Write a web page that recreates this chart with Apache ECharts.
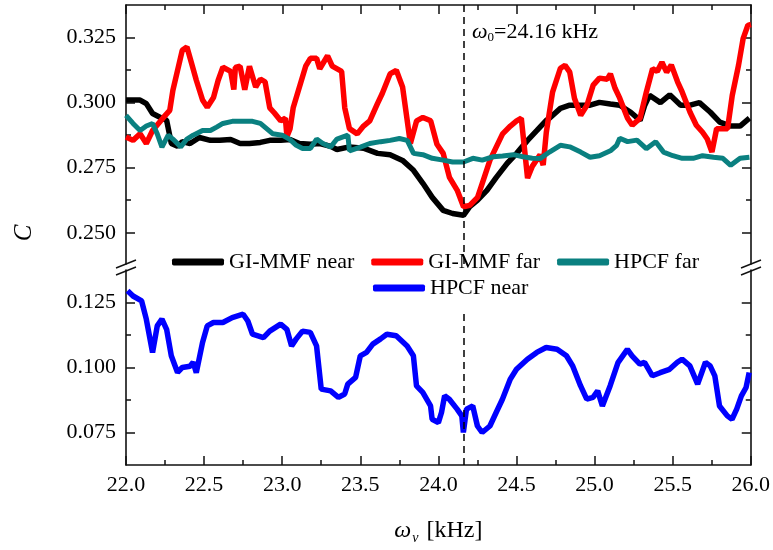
<!DOCTYPE html>
<html>
<head>
<meta charset="utf-8">
<title>C vs omega</title>
<script src="https://cdn.jsdelivr.net/npm/echarts@6/dist/echarts.min.js"></script>
<style>
html, body { margin: 0; padding: 0; background: #fff; }
#main { width: 773px; height: 550px; }
</style>
</head>
<body>
<div id="main"></div>
<script>
// GI-MMF near (black)
var mmfNearFreq = [22.00, 22.045, 22.09, 22.13, 22.17, 22.22, 22.26, 22.29, 22.33, 22.36, 22.41, 22.47, 22.54, 22.60, 22.67, 22.73, 22.79, 22.86, 22.92, 22.99, 23.05, 23.11, 23.18, 23.24, 23.31, 23.35, 23.43, 23.52, 23.61, 23.69, 23.77, 23.84, 23.90, 23.96, 24.03, 24.09, 24.16, 24.20, 24.25, 24.31, 24.37, 24.44, 24.50, 24.57, 24.63, 24.69, 24.71, 24.78, 24.84, 24.91, 24.97, 25.03, 25.10, 25.16, 25.23, 25.29, 25.32, 25.35, 25.42, 25.48, 25.55, 25.61, 25.67, 25.74, 25.80, 25.87, 25.93, 25.99];
var mmfNearC = [0.301, 0.301, 0.301, 0.2996, 0.2958, 0.2943, 0.2932, 0.2843, 0.2832, 0.285, 0.2843, 0.2866, 0.2855, 0.2855, 0.2858, 0.2843, 0.2843, 0.2847, 0.2855, 0.2855, 0.2858, 0.2843, 0.284, 0.2843, 0.2832, 0.282, 0.283, 0.2825, 0.2805, 0.280, 0.2778, 0.274, 0.269, 0.2636, 0.2586, 0.2574, 0.2567, 0.260, 0.2625, 0.2663, 0.2713, 0.2767, 0.2805, 0.2855, 0.2893, 0.2932, 0.294, 0.2978, 0.299, 0.299, 0.299, 0.3001, 0.2995, 0.299, 0.2963, 0.2932, 0.299, 0.3028, 0.300, 0.303, 0.299, 0.299, 0.300, 0.2963, 0.2925, 0.291, 0.291, 0.294];

// GI-MMF far (red)
var mmfFarFreq = [22.00, 22.045, 22.09, 22.13, 22.17, 22.24, 22.28, 22.30, 22.33, 22.36, 22.39, 22.42, 22.45, 22.49, 22.52, 22.56, 22.59, 22.62, 22.67, 22.69, 22.70, 22.73, 22.76, 22.79, 22.83, 22.86, 22.89, 22.92, 22.95, 22.99, 23.02, 23.03, 23.05, 23.07, 23.11, 23.15, 23.18, 23.22, 23.24, 23.29, 23.32, 23.38, 23.40, 23.43, 23.48, 23.52, 23.56, 23.61, 23.64, 23.69, 23.73, 23.77, 23.82, 23.86, 23.90, 23.95, 23.99, 24.03, 24.07, 24.12, 24.16, 24.20, 24.25, 24.28, 24.33, 24.37, 24.41, 24.46, 24.50, 24.53, 24.57, 24.60, 24.65, 24.67, 24.69, 24.73, 24.78, 24.81, 24.84, 24.87, 24.91, 24.95, 24.99, 25.03, 25.08, 25.10, 25.13, 25.16, 25.21, 25.24, 25.29, 25.33, 25.37, 25.40, 25.43, 25.46, 25.49, 25.53, 25.56, 25.61, 25.65, 25.69, 25.72, 25.75, 25.78, 25.82, 25.85, 25.88, 25.92, 25.95, 25.98, 26.00];
var mmfFarC = [0.2868, 0.2855, 0.288, 0.2843, 0.2893, 0.2943, 0.297, 0.3047, 0.3124, 0.3201, 0.3214, 0.315, 0.3086, 0.301, 0.2982, 0.302, 0.3086, 0.3136, 0.312, 0.305, 0.3135, 0.314, 0.305, 0.314, 0.306, 0.309, 0.308, 0.298, 0.296, 0.293, 0.294, 0.287, 0.290, 0.298, 0.306, 0.314, 0.317, 0.317, 0.313, 0.318, 0.314, 0.312, 0.298, 0.290, 0.288, 0.291, 0.293, 0.2997, 0.3035, 0.311, 0.3124, 0.306, 0.2843, 0.293, 0.2943, 0.293, 0.284, 0.2805, 0.2713, 0.2663, 0.260, 0.2605, 0.2636, 0.269, 0.278, 0.283, 0.288, 0.291, 0.293, 0.294, 0.271, 0.2755, 0.280, 0.276, 0.2886, 0.304, 0.3132, 0.3143, 0.3117, 0.3017, 0.2951, 0.299, 0.3067, 0.3094, 0.309, 0.311, 0.3055, 0.3017, 0.294, 0.2913, 0.294, 0.304, 0.313, 0.312, 0.3155, 0.3117, 0.3145, 0.308, 0.304, 0.2963, 0.2913, 0.2886, 0.286, 0.281, 0.290, 0.290, 0.290, 0.3028, 0.3143, 0.3247, 0.3297, 0.330];

// HPCF far (teal)
var hpcfFarFreq = [22.00, 22.045, 22.09, 22.13, 22.17, 22.20, 22.23, 22.27, 22.30, 22.35, 22.39, 22.43, 22.49, 22.54, 22.58, 22.62, 22.68, 22.75, 22.81, 22.86, 22.90, 22.94, 23.00, 23.05, 23.09, 23.13, 23.18, 23.22, 23.26, 23.31, 23.35, 23.42, 23.43, 23.50, 23.56, 23.63, 23.69, 23.75, 23.80, 23.84, 23.90, 23.96, 24.03, 24.09, 24.16, 24.22, 24.28, 24.35, 24.41, 24.48, 24.54, 24.60, 24.65, 24.71, 24.78, 24.84, 24.91, 24.97, 25.03, 25.10, 25.14, 25.16, 25.21, 25.27, 25.33, 25.39, 25.44, 25.50, 25.56, 25.63, 25.69, 25.76, 25.82, 25.87, 25.93, 25.99];
var hpcfFarC = [0.2951, 0.292, 0.2893, 0.291, 0.292, 0.288, 0.2829, 0.2875, 0.286, 0.283, 0.286, 0.2875, 0.2893, 0.2893, 0.2906, 0.292, 0.2928, 0.2928, 0.2928, 0.292, 0.290, 0.288, 0.2875, 0.2858, 0.2836, 0.2824, 0.2824, 0.286, 0.2843, 0.283, 0.286, 0.2875, 0.2815, 0.2829, 0.2843, 0.285, 0.2855, 0.2862, 0.2855, 0.2805, 0.280, 0.2786, 0.2779, 0.2772, 0.2772, 0.2786, 0.2779, 0.2792, 0.2795, 0.280, 0.2792, 0.2786, 0.2785, 0.281, 0.2836, 0.283, 0.281, 0.279, 0.2796, 0.2815, 0.2836, 0.2863, 0.285, 0.2856, 0.2823, 0.285, 0.281, 0.2796, 0.2786, 0.2786, 0.2796, 0.279, 0.2786, 0.2759, 0.2786, 0.279];

// HPCF near (blue)
var hpcfNearFreq = [22.01, 22.045, 22.10, 22.13, 22.17, 22.20, 22.23, 22.26, 22.29, 22.33, 22.36, 22.41, 22.43, 22.45, 22.49, 22.52, 22.56, 22.62, 22.68, 22.75, 22.78, 22.81, 22.88, 22.92, 22.99, 23.03, 23.06, 23.09, 23.13, 23.18, 23.22, 23.25, 23.31, 23.36, 23.40, 23.42, 23.47, 23.50, 23.54, 23.58, 23.63, 23.67, 23.73, 23.80, 23.84, 23.86, 23.90, 23.95, 23.96, 24.00, 24.02, 24.04, 24.07, 24.12, 24.15, 24.16, 24.18, 24.22, 24.25, 24.28, 24.33, 24.37, 24.41, 24.46, 24.50, 24.57, 24.63, 24.69, 24.76, 24.82, 24.86, 24.91, 24.95, 24.99, 25.02, 25.05, 25.10, 25.15, 25.21, 25.24, 25.29, 25.32, 25.37, 25.42, 25.48, 25.53, 25.56, 25.61, 25.66, 25.71, 25.74, 25.77, 25.80, 25.85, 25.88, 25.91, 25.94, 25.97, 25.99];
var hpcfNearC = [0.1295, 0.1275, 0.1256, 0.1186, 0.1058, 0.116, 0.1186, 0.1147, 0.1045, 0.0981, 0.100, 0.1005, 0.102, 0.098, 0.1096, 0.116, 0.1173, 0.1173, 0.1192, 0.1205, 0.1179, 0.1128, 0.1115, 0.114, 0.1167, 0.1147, 0.1083, 0.111, 0.114, 0.1135, 0.1083, 0.0917, 0.091, 0.0885, 0.0898, 0.0936, 0.0962, 0.1045, 0.1058, 0.109, 0.111, 0.1128, 0.1122, 0.1083, 0.1045, 0.0929, 0.0904, 0.0852, 0.0801, 0.0788, 0.0827, 0.0891, 0.0878, 0.084, 0.0814, 0.075, 0.084, 0.0852, 0.0775, 0.075, 0.0775, 0.0827, 0.0878, 0.0955, 0.0993, 0.1032, 0.1058, 0.1077, 0.107, 0.1045, 0.1006, 0.093, 0.0878, 0.0885, 0.091, 0.0852, 0.093, 0.1019, 0.107, 0.1045, 0.1013, 0.102, 0.0968, 0.098, 0.0993, 0.102, 0.1032, 0.1006, 0.0936, 0.102, 0.1006, 0.0968, 0.0852, 0.0814, 0.0801, 0.084, 0.0891, 0.0923, 0.0981];

// 刻度
var upperMajor = [0.25, 0.275, 0.3, 0.325];
var upperMinor = [0.2625, 0.2875, 0.3125];
var lowerMajor = [0.075, 0.1, 0.125];
var lowerMinor = [0.0875, 0.1125];
var omega0 = 24.16;

var FONT = 'Liberation Serif';

function zip(xs, ys) {
	return xs.map(function(x, i) {
		return [x, ys[i]];
	});
}

// 左右两侧的纵轴 (主刻度 + 次刻度)
function makeYAxes(gridIndex, min, max, major, minor) {
	var base = {
		type: 'value',
		gridIndex: gridIndex,
		min: min,
		max: max,
		splitLine: { show: false }
	};
	var list = [];
	['left', 'right'].forEach(function(pos) {
		list.push(Object.assign({}, base, {
			position: pos,
			axisLine: { show: true, lineStyle: { color: '#111', width: 1.6 } },
			axisTick: { show: true, inside: true, length: 9, customValues: major, lineStyle: { color: '#111', width: 1.5 } },
			axisLabel: {
				show: pos === 'left',
				customValues: major,
				margin: 10,
				color: '#000',
				fontFamily: FONT,
				fontSize: 22,
				formatter: function(v) { return v.toFixed(3); }
			}
		}));
		list.push(Object.assign({}, base, {
			position: pos,
			axisLine: { show: false },
			axisTick: { show: true, inside: true, length: 5, customValues: minor, lineStyle: { color: '#111', width: 1.5 } },
			axisLabel: { show: false }
		}));
	});
	return list;
}

function makeSeries(name, color, data, xi, yi, width) {
	return {
		name: name,
		type: 'line',
		xAxisIndex: xi,
		yAxisIndex: yi,
		data: data,
		showSymbol: false,
		symbol: 'none',
		lineStyle: { color: color, width: width },
		itemStyle: { color: color }
	};
}

function drawChart() {
	var chart = echarts.init(document.getElementById('main'));

	var xBase = {
		type: 'value',
		min: 22,
		max: 26,
		interval: 0.5,
		splitLine: { show: false },
		axisLine: { show: true, lineStyle: { color: '#111', width: 1.6 } },
		axisTick: { show: true, inside: true, length: 9, lineStyle: { color: '#111', width: 1.5 } },
		minorTick: { show: true, splitNumber: 2, length: 5, lineStyle: { color: '#111', width: 1.5 } }
	};

	var blackS = makeSeries('GI-MMF near', '#000000', zip(mmfNearFreq, mmfNearC), 0, 0, 5.5);
	var redS = makeSeries('GI-MMF far', '#ff0000', zip(mmfFarFreq, mmfFarC), 0, 0, 5.5);
	var tealS = makeSeries('HPCF far', '#0a8080', zip(hpcfFarFreq, hpcfFarC), 0, 0, 5);
	var blueS = makeSeries('HPCF near', '#0000ff', zip(hpcfNearFreq, hpcfNearC), 1, 4, 5.5);

	var dashStyle = { color: '#000', width: 1.5, type: [7, 5] };
	redS.markLine = {
		silent: true,
		symbol: ['none', 'none'],
		label: { show: false },
		lineStyle: dashStyle,
		data: [[{ coord: [omega0, 0.238] }, { coord: [omega0, 0.3375] }]]
	};
	blueS.markLine = {
		silent: true,
		symbol: ['none', 'none'],
		label: { show: false },
		lineStyle: dashStyle,
		data: [[{ coord: [omega0, 0.0625] }, { coord: [omega0, 0.1225] }]]
	};

	var legendText = { color: '#000', fontFamily: FONT, fontSize: 22 };

	var option = {
		animation: false,
		backgroundColor: '#fff',
		grid: [
			{ left: 126, right: 22, top: 5, height: 259 },
			{ left: 126, right: 22, top: 270, height: 195 }
		],
		xAxis: [
			Object.assign({}, xBase, { gridIndex: 0, position: 'top', axisLabel: { show: false } }),
			Object.assign({}, xBase, {
				gridIndex: 1,
				position: 'bottom',
				axisLabel: {
					margin: 9,
					color: '#000',
					fontFamily: FONT,
					fontSize: 22,
					formatter: function(v) { return v.toFixed(1); }
				},
				name: '{w|ω}{s|v}{n|[kHz]}',
				nameLocation: 'middle',
				nameGap: 52,
				nameTextStyle: {
					rich: {
						w: { fontFamily: FONT, fontSize: 24, fontStyle: 'italic', color: '#000' },
						s: { fontFamily: FONT, fontSize: 14, fontStyle: 'italic', color: '#000', padding: [14, 8, 0, 1] },
						n: { fontFamily: FONT, fontSize: 24, color: '#000' }
					}
				}
			})
		],
		yAxis: makeYAxes(0, 0.238, 0.3375, upperMajor, upperMinor)
			.concat(makeYAxes(1, 0.0625, 0.1375, lowerMajor, lowerMinor)),
		legend: [{
			data: ['GI-MMF near', 'GI-MMF far', 'HPCF far'],
			left: 172,
			top: 251,
			padding: 0,
			itemGap: 17,
			itemWidth: 52,
			itemHeight: 7,
			icon: 'roundRect',
			textStyle: legendText
		}, {
			data: ['HPCF near'],
			left: 373,
			top: 277,
			padding: 0,
			itemWidth: 52,
			itemHeight: 7,
			icon: 'roundRect',
			textStyle: legendText
		}],
		graphic: [
			// 断轴标记
			{ type: 'line', shape: { x1: 116, y1: 268, x2: 136, y2: 260 }, style: { stroke: '#111', lineWidth: 1.5 } },
			{ type: 'line', shape: { x1: 116, y1: 275, x2: 136, y2: 267 }, style: { stroke: '#111', lineWidth: 1.5 } },
			{ type: 'line', shape: { x1: 741, y1: 268, x2: 761, y2: 260 }, style: { stroke: '#111', lineWidth: 1.5 } },
			{ type: 'line', shape: { x1: 741, y1: 275, x2: 761, y2: 267 }, style: { stroke: '#111', lineWidth: 1.5 } },
			{
				type: 'text',
				x: 24,
				y: 233,
				rotation: Math.PI / 2,
				style: {
					text: 'C',
					fill: '#000',
					font: 'italic 25px "Liberation Serif"',
					align: 'center',
					verticalAlign: 'middle'
				}
			},
			{
				type: 'text',
				left: 472,
				top: 21,
				style: {
					text: '{w|ω}{s|0}{n|=24.16 kHz}',
					rich: {
						w: { fontFamily: FONT, fontSize: 22, fontStyle: 'italic', fill: '#000' },
						s: { fontFamily: FONT, fontSize: 13, fill: '#000', padding: [12, 0, 0, 0] },
						n: { fontFamily: FONT, fontSize: 22, fill: '#000' }
					}
				}
			}
		],
		series: [blackS, redS, tealS, blueS]
	};

	chart.setOption(option);
}

drawChart();
</script>
</body>
</html>
